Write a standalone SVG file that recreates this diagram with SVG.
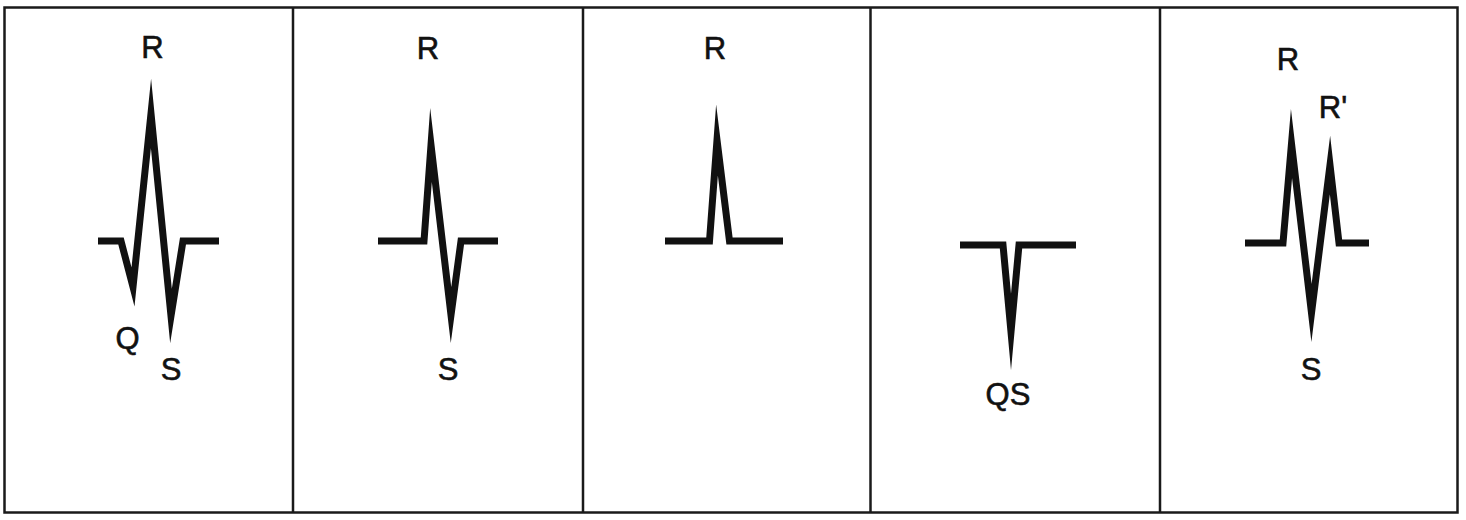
<svg xmlns="http://www.w3.org/2000/svg" width="1466" height="520" viewBox="0 0 1466 520">
<style>
.frame{fill:none;stroke:#1a1a1a;stroke-width:2.5}
.wave{fill:none;stroke:#111;stroke-width:7;stroke-linejoin:miter;stroke-miterlimit:60;stroke-linecap:butt}
.lbl{font-family:"Liberation Sans",Arial,sans-serif;font-size:31px;fill:#111;stroke:#111;stroke-width:0.6;text-anchor:middle}
</style>
<rect width="1466" height="520" fill="#fff"/>
<g id="frame">
<rect class="frame" x="4.5" y="7.5" width="1453" height="505"/>
<line class="frame" x1="293" y1="7.5" x2="293" y2="512.5"/>
<line class="frame" x1="583" y1="7.5" x2="583" y2="512.5"/>
<line class="frame" x1="870.5" y1="7.5" x2="870.5" y2="512.5"/>
<line class="frame" x1="1160" y1="7.5" x2="1160" y2="512.5"/>
</g>
<g id="panel1">
<polyline class="wave" points="98,241 121,241 133,287 151,113.5 171,316 183,241 219,241"/>
<text class="lbl" x="152.5" y="58">R</text>
<text class="lbl" x="127.5" y="349">Q</text>
<text class="lbl" x="171" y="380">S</text>
</g>
<g id="panel2">
<polyline class="wave" points="378,241 424,241 431,145 451,315 461,241 498,241"/>
<text class="lbl" x="428" y="59">R</text>
<text class="lbl" x="448" y="380">S</text>
</g>
<g id="panel3">
<polyline class="wave" points="665,241 709.5,241 717,140 729.5,241 783,241"/>
<text class="lbl" x="715" y="59">R</text>
</g>
<g id="panel4">
<polyline class="wave" points="960,245 1003,245 1011,332 1019,245 1076,245"/>
<text class="lbl" x="1008" y="405">QS</text>
</g>
<g id="panel5">
<polyline class="wave" points="1245,243 1283,243 1291.5,143.5 1311.5,313 1330,165 1339,243 1369,243"/>
<text class="lbl" x="1288" y="70">R</text>
<text class="lbl" x="1333" y="118">R'</text>
<text class="lbl" x="1311" y="380">S</text>
</g>
</svg>
